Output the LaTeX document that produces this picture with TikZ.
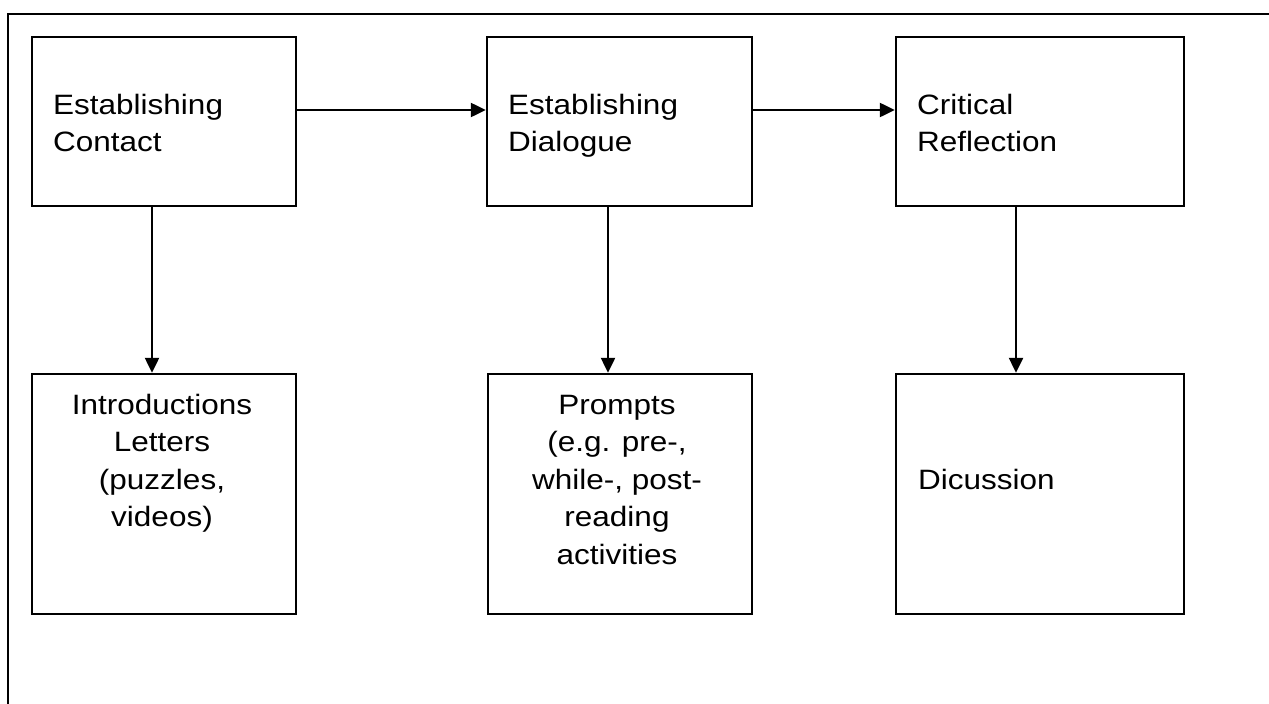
\documentclass[tikz,border=0pt]{standalone}
\usepackage{fontspec}
\setmainfont[FakeStretch=1.125]{Liberation Sans}
\usetikzlibrary{arrows.meta}
\begin{document}
\begin{tikzpicture}[x=1pt,y=-1pt,
  box/.style={draw=black,line width=2.5pt,inner sep=0pt},
  lbl/.style={inner sep=0pt,font=\fontsize{28}{37.5}\selectfont},
  arr/.style={draw=black,line width=2.5pt,-{Triangle[length=15pt,width=14pt]}}]
\useasboundingbox (0,0) rectangle (1269,704);
% outer frame (open to the right and bottom)
\draw[line width=2.5pt] (1269,14) -- (8,14) -- (8,704);

% upper row
\node[box,minimum width=264pt,minimum height=169pt] (A) at (164,121.5) {};
\node[box,minimum width=265pt,minimum height=169pt] (B) at (619.5,121.5) {};
\node[box,minimum width=288pt,minimum height=169pt] (C) at (1040,121.5) {};
% lower row
\node[box,minimum width=264pt,minimum height=240pt] (D) at (164,494) {};
\node[box,minimum width=264pt,minimum height=240pt] (E) at (620,494) {};
\node[box,minimum width=288pt,minimum height=240pt] (F) at (1040,494) {};

% labels (base anchor sits on the last line)
\node[lbl,anchor=base west,align=left] (tA) at (53,151.5) {Establishing\\Contact};
\node[lbl,anchor=base west,align=left] (tB) at (508,151.5) {Establishing\\Dialogue};
\node[lbl,anchor=base west,align=left] (tC) at (917,151.5) {Critical\\Reflection};
\node[lbl,anchor=base,align=center] (tD) at (162,526.5) {Introductions\\Letters\\(puzzles,\\videos)};
\node[lbl,anchor=base,align=center] (tE) at (617,564) {Prompts\\(e.g. pre-,\\while-, post-\\reading\\activities};
\node[lbl,anchor=base west] (tF) at (918,489) {Dicussion};

% connectors
\draw[arr] ([yshift=11.5pt]A.east) -- ([yshift=11.5pt]B.west);
\draw[arr] ([yshift=11.5pt]B.east) -- ([yshift=11.5pt]C.west);
\draw[arr] ([xshift=-12pt]A.south) -- ([xshift=-12pt]D.north);
\draw[arr] ([xshift=-11.5pt]B.south) -- ([xshift=-12pt]E.north);
\draw[arr] ([xshift=-24pt]C.south) -- ([xshift=-24pt]F.north);
\end{tikzpicture}
\end{document}
